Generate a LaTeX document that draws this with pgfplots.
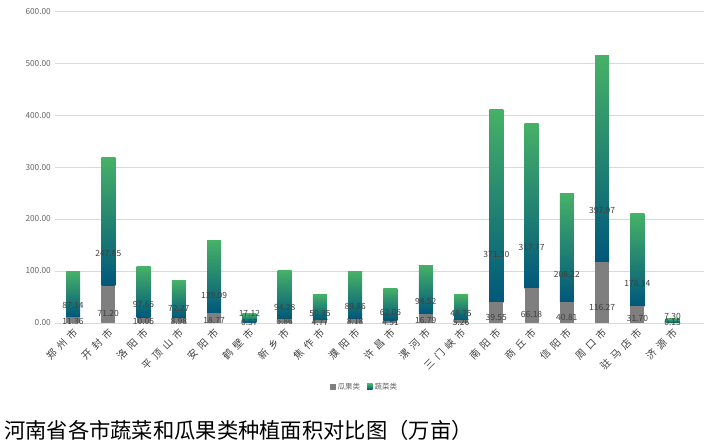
\documentclass[border=0pt]{standalone}
\usepackage{pgfplots}
\pgfplotsset{compat=1.18}
\usepackage{pgfplotstable}
\usepackage{fontspec}
\setmainfont{Noto Sans CJK SC}
\definecolor{barA}{HTML}{7F7F7F}
\definecolor{gA}{HTML}{00577B}
\definecolor{gC}{HTML}{1DA677}
\definecolor{gD}{HTML}{46B167}
\definecolor{gridc}{HTML}{D9D9D9}
\definecolor{txt}{HTML}{404040}
\newcommand{\csp}{\hspace{4.5pt}}
\pgfplotstableread{
x gray green
0 11.36 87.14
1 71.20 247.65
2 10.05 97.65
3 8.98 72.27
4 18.77 139.09
5 0.57 17.12
6 6.86 94.28
7 4.77 50.35
8 8.18 89.86
9 4.51 62.05
10 16.79 94.52
11 5.26 48.75
12 39.55 371.30
13 66.18 317.77
14 40.81 208.22
15 116.27 397.97
16 31.70 178.14
17 0.15 7.30
}\datatable
\pgfplotsset{common/.style={
  at={(55.4pt,121pt)}, anchor=south west,
  scale only axis, width=648.6pt, height=311.7pt,
  xmin=-0.5, xmax=17.88, ymin=0, ymax=600,
  ybar stacked, bar width=14pt,
}}
\begin{document}
\begin{tikzpicture}
\path (0,0) rectangle (704pt,444pt);
\begin{axis}[
  common,
  ytick distance=100,
  ymajorgrids, grid style={gridc, line width=0.6pt},
  major tick length=0pt,
  axis lines*=left,
  y axis line style={draw=none},
  x axis line style={-, draw=gridc, line width=0.6pt},
  /pgf/number format/assume math mode=true,
  yticklabel style={font=\fontsize{8.3}{9}\selectfont, text=black!60, xshift=-1pt, /pgf/number format/.cd, fixed, fixed zerofill, precision=2},
  xtick={0,...,17},
  xticklabels={郑\csp 州\csp 市,开\csp 封\csp 市,洛\csp 阳\csp 市,平\csp 顶\csp 山\csp 市,安\csp 阳\csp 市,鹤\csp 壁\csp 市,新\csp 乡\csp 市,焦\csp 作\csp 市,濮\csp 阳\csp 市,许\csp 昌\csp 市,漯\csp 河\csp 市,三\csp 门\csp 峡\csp 市,南\csp 阳\csp 市,商\csp 丘\csp 市,信\csp 阳\csp 市,周\csp 口\csp 市,驻\csp 马\csp 店\csp 市,济\csp 源\csp 市},
  xticklabel style={rotate=45, anchor=east, font=\fontsize{10}{11}\selectfont, text=txt, xshift=0pt, yshift=-7pt},
  legend style={at={(0.477,-0.205)}, anchor=center, draw=none, legend columns=2, font=\fontsize{7.5}{8}\selectfont, text=black!60, /tikz/every even column/.append style={column sep=5pt}},
  legend image code/.code={\path[#1, draw=none] (0pt,-2.8pt) rectangle (5.6pt,2.8pt);},
]
\addlegendimage{fill=barA}
\addlegendentry{瓜果类}
\addlegendimage{top color=gD, middle color=gC, bottom color=gA}
\addlegendentry{蔬菜类}
\end{axis}
\foreach \i in {0,...,17}{
\pgfmathtruncatemacro{\j}{\i+1}
\begin{axis}[
  common, hide axis,
  point meta=explicit symbolic,
  nodes near coords={\pgfplotspointmeta},
  every node near coord/.append style={font=\fontsize{8.5}{9}\selectfont, text=txt, anchor=center},
]
\addplot[fill=barA, draw=none,
  skip coords between index={0}{\i}, skip coords between index={\j}{18},
  every node near coord/.append style={yshift=-0.129875*\pgfplotspointmeta}]
  table[x=x, y=gray, meta=gray] {\datatable};
\addplot[top color=gD, middle color=gC, bottom color=gA, draw=none,
  skip coords between index={0}{\i}, skip coords between index={\j}{18},
  every node near coord/.append style={yshift={(\pgfplotspointmeta<20) ? 4.5 : -0.129875*\pgfplotspointmeta}}]
  table[x=x, y=green, meta=green] {\datatable};
\end{axis}
}
\node[anchor=west, font=\fontsize{21.3}{24}\selectfont, inner sep=0pt] at (4pt,13pt) {河南省各市蔬菜和瓜果类种植面积对比图（万亩）};
\end{tikzpicture}
\end{document}
